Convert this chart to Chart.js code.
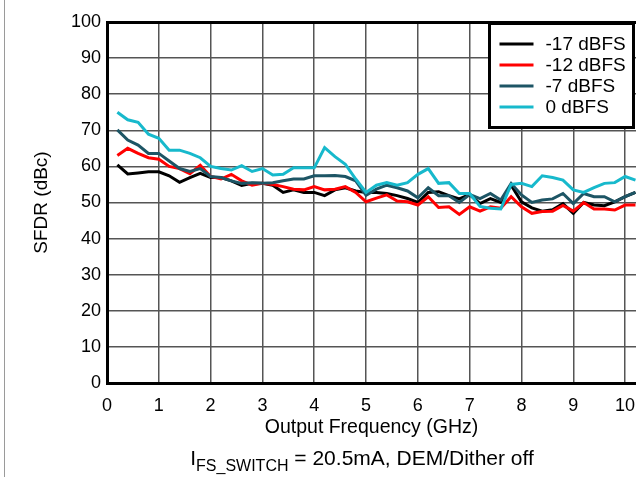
<!DOCTYPE html>
<html>
<head>
<meta charset="utf-8">
<script src="https://cdn.jsdelivr.net/npm/chart.js@4.4.1/dist/chart.umd.min.js"></script>
<style>
    html, body { margin: 0; padding: 0; background: #fff; }
    #wrap { position: relative; width: 636px; height: 477px; overflow: hidden; }
    #frame { position: absolute; left: 4px; top: 0; height: 477px; border-left: 1px solid #9a9a9a; }
    #note { position: absolute; left: 0; width: 724px; top: 446px; text-align: center;
            font-family: 'Liberation Sans', Arial, sans-serif; font-size: 21px; color: #000; }
    #note sub { font-size: 16px; vertical-align: -6px; }
</style>
</head>
<body>
<div id="wrap">
    <canvas id="sfdrChart" width="636" height="477"></canvas>
    <div id="frame"></div>
    <div id="note">I<sub>FS_SWITCH</sub> = 20.5mA, DEM/Dither off</div>
</div>
<script>
// Output frequency (GHz) of each measured point
const freqs = [0.2, 0.4, 0.6, 0.8, 1.0, 1.2, 1.4, 1.6, 1.8, 2.0,
               2.2, 2.4, 2.6, 2.8, 3.0, 3.2, 3.4, 3.6, 3.8, 4.0,
               4.2, 4.4, 4.6, 4.8, 5.0, 5.2, 5.4, 5.6, 5.8, 6.0,
               6.2, 6.4, 6.6, 6.8, 7.0, 7.2, 7.4, 7.6, 7.8, 8.0,
               8.2, 8.4, 8.6, 8.8, 9.0, 9.2, 9.4, 9.6, 9.8, 10.0, 10.2];

// SFDR (dBc) per input level
const sfdrM17 = [60.4, 57.9, 58.2, 58.5, 58.5, 57.4, 55.6, 56.9, 58.1, 56.9,
                 56.9, 56.0, 54.7, 55.3, 55.3, 54.8, 52.8, 53.5, 52.8, 52.8,
                 51.9, 53.5, 54.1, 53.2, 52.8, 52.8, 52.5, 51.9, 51.1, 50.0,
                 52.8, 53.0, 51.9, 51.0, 52.2, 49.7, 51.1, 50.0, 54.8, 50.2,
                 48.5, 47.6, 48.0, 49.7, 47.0, 50.0, 49.3, 49.1, 50.2, 51.6, 52.8];
const sfdrM12 = [63.0, 65.0, 63.6, 62.4, 62.0, 60.0, 59.4, 58.0, 60.3, 57.2,
                 56.5, 57.8, 56.0, 54.8, 55.3, 55.0, 54.4, 53.7, 53.5, 54.4,
                 53.5, 53.7, 54.4, 52.8, 50.2, 51.2, 52.1, 50.4, 50.2, 49.3,
                 51.6, 48.6, 48.8, 46.7, 48.8, 47.6, 48.8, 48.4, 51.6, 48.8,
                 47.0, 47.5, 47.6, 49.2, 47.6, 50.0, 48.2, 48.2, 47.9, 49.3, 49.3];
const sfdrM7 = [70.1, 67.3, 65.9, 63.6, 63.6, 61.5, 59.4, 58.6, 59.4, 57.2,
                56.9, 56.0, 55.3, 55.5, 55.3, 55.5, 56.0, 56.5, 56.5, 57.4,
                57.4, 57.5, 57.2, 56.0, 52.0, 53.7, 54.8, 54.1, 53.2, 51.3,
                54.1, 51.9, 51.9, 50.0, 52.2, 51.1, 52.5, 50.7, 55.3, 52.1,
                50.0, 50.7, 51.0, 52.5, 49.7, 52.5, 51.6, 51.6, 50.2, 51.6, 52.8];
const sfdr0 = [75.0, 72.9, 72.2, 68.9, 67.8, 64.5, 64.5, 63.6, 62.4, 60.0,
               59.4, 59.0, 60.2, 58.6, 59.4, 57.6, 57.8, 59.6, 59.6, 59.6,
               65.2, 62.7, 60.6, 56.5, 52.8, 54.8, 55.5, 54.8, 55.5, 57.8,
               59.4, 55.3, 55.5, 52.5, 52.5, 48.9, 48.4, 48.2, 55.0, 55.3,
               54.4, 57.4, 56.9, 56.2, 53.5, 52.8, 54.1, 55.3, 55.5, 57.2, 56.2];

const seriesLabels = ['-17 dBFS', '-12 dBFS', '-7 dBFS', '0 dBFS'];
const seriesColors = ['#000000', '#ff0000', '#1d5565', '#17b9cc'];

const FONT = "'Liberation Sans', Arial, sans-serif";

function toPoints(values) {
    return values.map((v, i) => ({ x: freqs[i], y: v }));
}

// legend box drawn inside the plot, top right
const boxLegend = {
    id: 'boxLegend',
    afterDraw(chart) {
        const { ctx, chartArea } = chart;
        const x0 = chartArea.right - 146.5;
        const y0 = chartArea.top + 1.5;
        ctx.save();
        ctx.fillStyle = '#fff';
        ctx.fillRect(x0, y0, 144, 104);
        ctx.lineWidth = 3;
        ctx.strokeStyle = '#000';
        ctx.strokeRect(x0, y0, 144, 104);
        ctx.font = '19px ' + FONT;
        ctx.textBaseline = 'middle';
        chart.data.datasets.forEach((ds, i) => {
            const y = y0 + 20.5 + i * 21;
            ctx.strokeStyle = ds.borderColor;
            ctx.lineWidth = 3;
            ctx.beginPath();
            ctx.moveTo(x0 + 10, y);
            ctx.lineTo(x0 + 44, y);
            ctx.stroke();
            ctx.fillStyle = '#000';
            ctx.fillText(ds.label, x0 + 56, y + 1);
        });
        ctx.restore();
    }
};

const allSeries = [sfdrM17, sfdrM12, sfdrM7, sfdr0];

const ctx = document.getElementById('sfdrChart').getContext('2d');
new Chart(ctx, {
    type: 'line',
    data: {
        datasets: allSeries.map((vals, i) => ({
            label: seriesLabels[i],
            data: toPoints(vals),
            borderColor: seriesColors[i],
            backgroundColor: seriesColors[i],
            borderWidth: 3,
            pointRadius: 0,
            tension: 0,
            fill: false,
            order: allSeries.length - i
        }))
    },
    options: {
        responsive: false,
        animation: false,
        layout: { padding: { top: 22, right: 0, left: 0, bottom: 0 } },
        plugins: {
            legend: { display: false },
            tooltip: { enabled: false }
        },
        scales: {
            x: {
                type: 'linear',
                min: 0,
                max: 10.21,
                afterFit: (scale) => {
                    scale.height = 94;
                    scale.paddingRight = 0;
                    scale.paddingLeft = 0;
                },
                ticks: {
                    stepSize: 1,
                    includeBounds: false,
                    padding: 12,
                    color: '#000',
                    font: { family: FONT, size: 18 }
                },
                grid: { color: '#555', lineWidth: 1.5, drawTicks: false },
                border: { color: '#000', width: 3 },
                title: {
                    display: true,
                    text: 'Output Frequency (GHz)',
                    color: '#000',
                    font: { family: FONT, size: 19.5 },
                    padding: { top: 0, bottom: 38 }
                }
            },
            y: {
                min: 0,
                max: 100,
                afterFit: (scale) => { scale.width = 107; },
                ticks: {
                    stepSize: 10,
                    padding: 6,
                    color: '#000',
                    font: { family: FONT, size: 18 }
                },
                grid: {
                    color: (c) => (c.tick && c.tick.value === 100 ? '#000' : '#555'),
                    lineWidth: (c) => (c.tick && c.tick.value === 100 ? 3 : 1.5),
                    drawTicks: false
                },
                border: { color: '#000', width: 3 },
                title: {
                    display: true,
                    text: 'SFDR (dBc)',
                    color: '#000',
                    font: { family: FONT, size: 19 },
                    padding: { top: 30, bottom: 0 }
                }
            }
        }
    },
    plugins: [boxLegend]
});
</script>
</body>
</html>
